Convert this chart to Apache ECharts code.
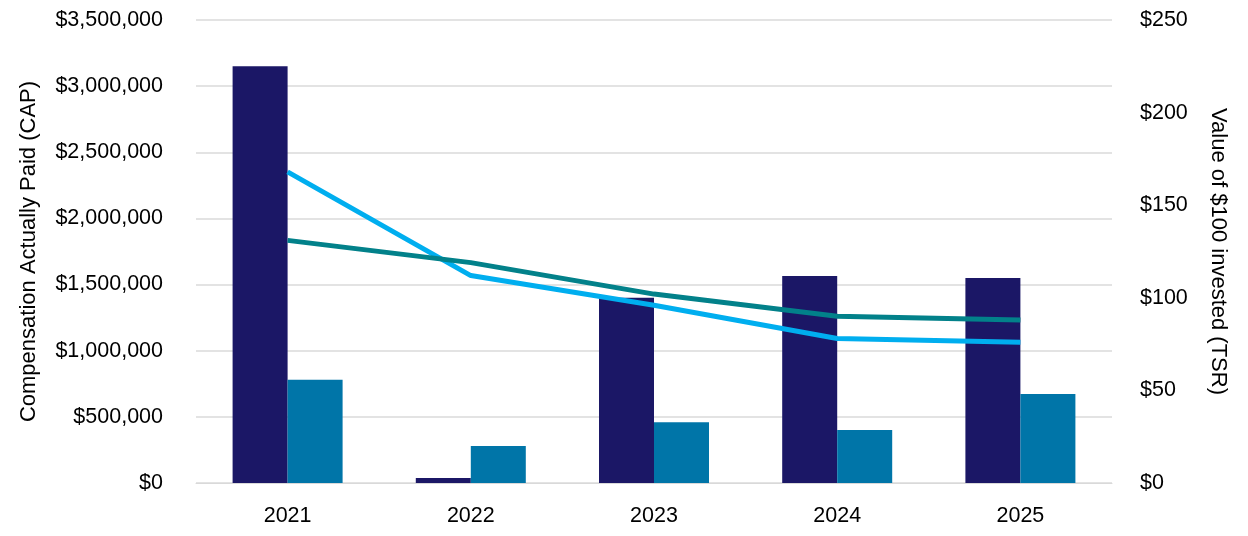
<!DOCTYPE html>
<html>
<head>
<meta charset="utf-8">
<script src="https://cdn.jsdelivr.net/npm/echarts@6/dist/echarts.min.js"></script>
<style>
html,body{margin:0;padding:0;background:#fff;}
#chart{width:1248px;height:536px;}
</style>
</head>
<body>
<div id="chart"></div>
<script>
const years = ['2021', '2022', '2023', '2024', '2025'];
const capPeo = [3150000, 38000, 1400000, 1565000, 1550000];
const capNeo = [780000, 280000, 460000, 400000, 672000];
const tsrCompany = [168, 112, 96, 78, 76];
const tsrPeer = [131, 119, 102, 90, 88];
const leftTicks = [0, 500000, 1000000, 1500000, 2000000, 2500000, 3000000, 3500000];
const rightTicks = [0, 50, 100, 150, 200, 250];

function money(v) {
  return '$' + String(Math.round(v)).replace(/\B(?=(\d{3})+(?!\d))/g, ',');
}

const FONT = 'Liberation Sans, Arial, sans-serif';
const FS = 21.5;
const chart = echarts.init(document.getElementById('chart'), null, {renderer: 'canvas'});
chart.setOption({
  animation: false,
  backgroundColor: '#ffffff',
  grid: {left: 196, right: 136, top: 20, bottom: 53, containLabel: false},
  xAxis: {
    type: 'category',
    data: years,
    axisLine: {show: true, lineStyle: {color: '#d9d9d9', width: 1}},
    axisTick: {show: false},
    axisLabel: {color: '#000', fontFamily: FONT, fontSize: FS, margin: 22}
  },
  yAxis: [
    {
      type: 'value',
      min: leftTicks[0],
      max: leftTicks[leftTicks.length - 1],
      interval: leftTicks[1] - leftTicks[0],
      name: 'Compensation Actually Paid (CAP)',
      nameLocation: 'middle',
      nameGap: 156,
      nameRotate: 90,
      nameTextStyle: {color: '#000', fontFamily: FONT, fontSize: 22},
      axisLine: {show: false},
      axisTick: {show: false},
      splitLine: {show: true, lineStyle: {color: '#e3e3e3', width: 2}},
      axisLabel: {color: '#000', fontFamily: FONT, fontSize: FS, margin: 33, formatter: money}
    },
    {
      type: 'value',
      position: 'right',
      min: rightTicks[0],
      max: rightTicks[rightTicks.length - 1],
      interval: rightTicks[1] - rightTicks[0],
      name: 'Value of $100 invested (TSR)',
      nameLocation: 'middle',
      nameGap: 95,
      nameRotate: -90,
      nameTextStyle: {color: '#000', fontFamily: FONT, fontSize: 22},
      axisLine: {show: false},
      axisTick: {show: false},
      splitLine: {show: false},
      axisLabel: {color: '#000', fontFamily: FONT, fontSize: FS, margin: 28, formatter: money}
    }
  ],
  series: [
    {
      name: 'PEO CAP',
      type: 'bar',
      yAxisIndex: 0,
      data: capPeo,
      barWidth: 55,
      barGap: '0%',
      itemStyle: {color: '#1b1766'},
      z: 2
    },
    {
      name: 'Non-PEO NEO CAP',
      type: 'bar',
      yAxisIndex: 0,
      data: capNeo,
      barWidth: 55,
      barGap: '0%',
      itemStyle: {color: '#0075a8'},
      z: 2
    },
    {
      name: 'Company TSR',
      type: 'line',
      yAxisIndex: 1,
      data: tsrCompany,
      symbol: 'none',
      lineStyle: {color: '#00aeef', width: 5},
      z: 5
    },
    {
      name: 'Peer TSR',
      type: 'line',
      yAxisIndex: 1,
      data: tsrPeer,
      symbol: 'none',
      lineStyle: {color: '#02818a', width: 5},
      z: 5
    }
  ]
});
</script>
</body>
</html>
